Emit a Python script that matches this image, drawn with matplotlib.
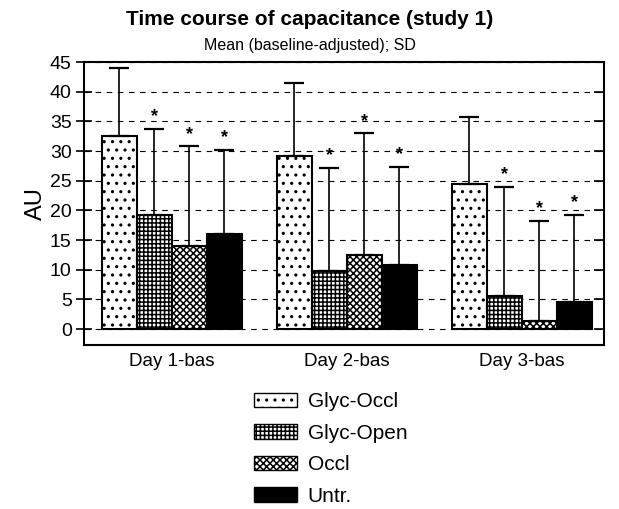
import matplotlib
matplotlib.use('Agg')
import matplotlib.pyplot as plt
from matplotlib.patches import Patch
import numpy as np

plt.rcParams['font.family'] = ['Liberation Sans', 'DejaVu Sans']
plt.rcParams['hatch.linewidth'] = 1.1

days = ["Day 1-bas", "Day 2-bas", "Day 3-bas"]
groups = ["Glyc-Occl", "Glyc-Open", "Occl", "Untr."]
means = {
    "Glyc-Occl": [32.5, 29.2, 24.5],
    "Glyc-Open": [19.2, 9.8, 5.6],
    "Occl": [14.0, 12.5, 1.3],
    "Untr.": [16.0, 10.8, 4.5],
}
sd_top = {
    "Glyc-Occl": [44.0, 41.5, 35.8],
    "Glyc-Open": [33.8, 27.2, 24.0],
    "Occl": [30.8, 33.0, 18.3],
    "Untr.": [30.2, 27.3, 19.3],
}
starred = ["Glyc-Open", "Occl", "Untr."]

hatches = {"Glyc-Occl": "..", "Glyc-Open": "++++", "Occl": "xxxxx", "Untr.": ""}
faces = {"Glyc-Occl": "white", "Glyc-Open": "white", "Occl": "white", "Untr.": "black"}

fig = plt.figure(figsize=(6.19, 5.09), dpi=100)
ax = fig.add_axes([0.136, 0.322, 0.840, 0.556])

x = np.arange(len(days))
width = 0.2
for i, g in enumerate(groups):
    pos = x - 0.3 + i * width
    m = np.array(means[g])
    err = np.array(sd_top[g]) - m
    ax.bar(pos, m, width, color=faces[g], edgecolor="black", hatch=hatches[g],
           linewidth=1.5, zorder=3)
    ax.errorbar(pos, m, yerr=[np.zeros_like(err), err], fmt="none", ecolor="black",
                elinewidth=1.2, capsize=7, capthick=1.6, zorder=4)
    if g in starred:
        for p, t in zip(pos, sd_top[g]):
            ax.text(p, t + 0.6, "*", ha="center", va="bottom", fontsize=13,
                    fontweight="bold", zorder=5)

ax.set_xlim(-0.5, 2.47)
ax.set_ylim(-2.7, 45)
ax.set_yticks(np.arange(0, 46, 5))
ax.set_xticks(x)
ax.set_xticklabels(days, fontsize=13.5)
ax.tick_params(axis="y", which="both", labelsize=14, width=1.2)
ax.tick_params(axis="y", left=True, direction="inout", length=11)
ax.yaxis.set_tick_params(which="major", right=True)
for t in ax.yaxis.get_major_ticks():
    t.tick2line.set_markersize(7)
    t.tick2line.set_marker(0)
ax.tick_params(axis="x", length=0, pad=6)
ax.yaxis.grid(True, linestyle=(0, (5, 5)), color="black", linewidth=0.8, zorder=0)
for s in ax.spines.values():
    s.set_linewidth(1.5)
ax.set_ylabel("AU", fontsize=17, labelpad=2)

fig.text(0.5, 0.962, "Time course of capacitance (study 1)", ha="center", va="center",
         fontsize=15, fontweight="bold")
fig.text(0.5, 0.910, "Mean (baseline-adjusted); SD", ha="center", va="center", fontsize=11.5)

handles = [Patch(facecolor=faces[g], edgecolor="black", hatch=hatches[g], label=g)
           for g in groups]
fig.legend(handles=handles, loc="upper center", bbox_to_anchor=(0.534, 0.25), frameon=False,
           fontsize=15, handlelength=2.1, handleheight=0.7, labelspacing=0.6,
           handletextpad=0.5, borderpad=0)

fig.savefig("out.png", dpi=100)
